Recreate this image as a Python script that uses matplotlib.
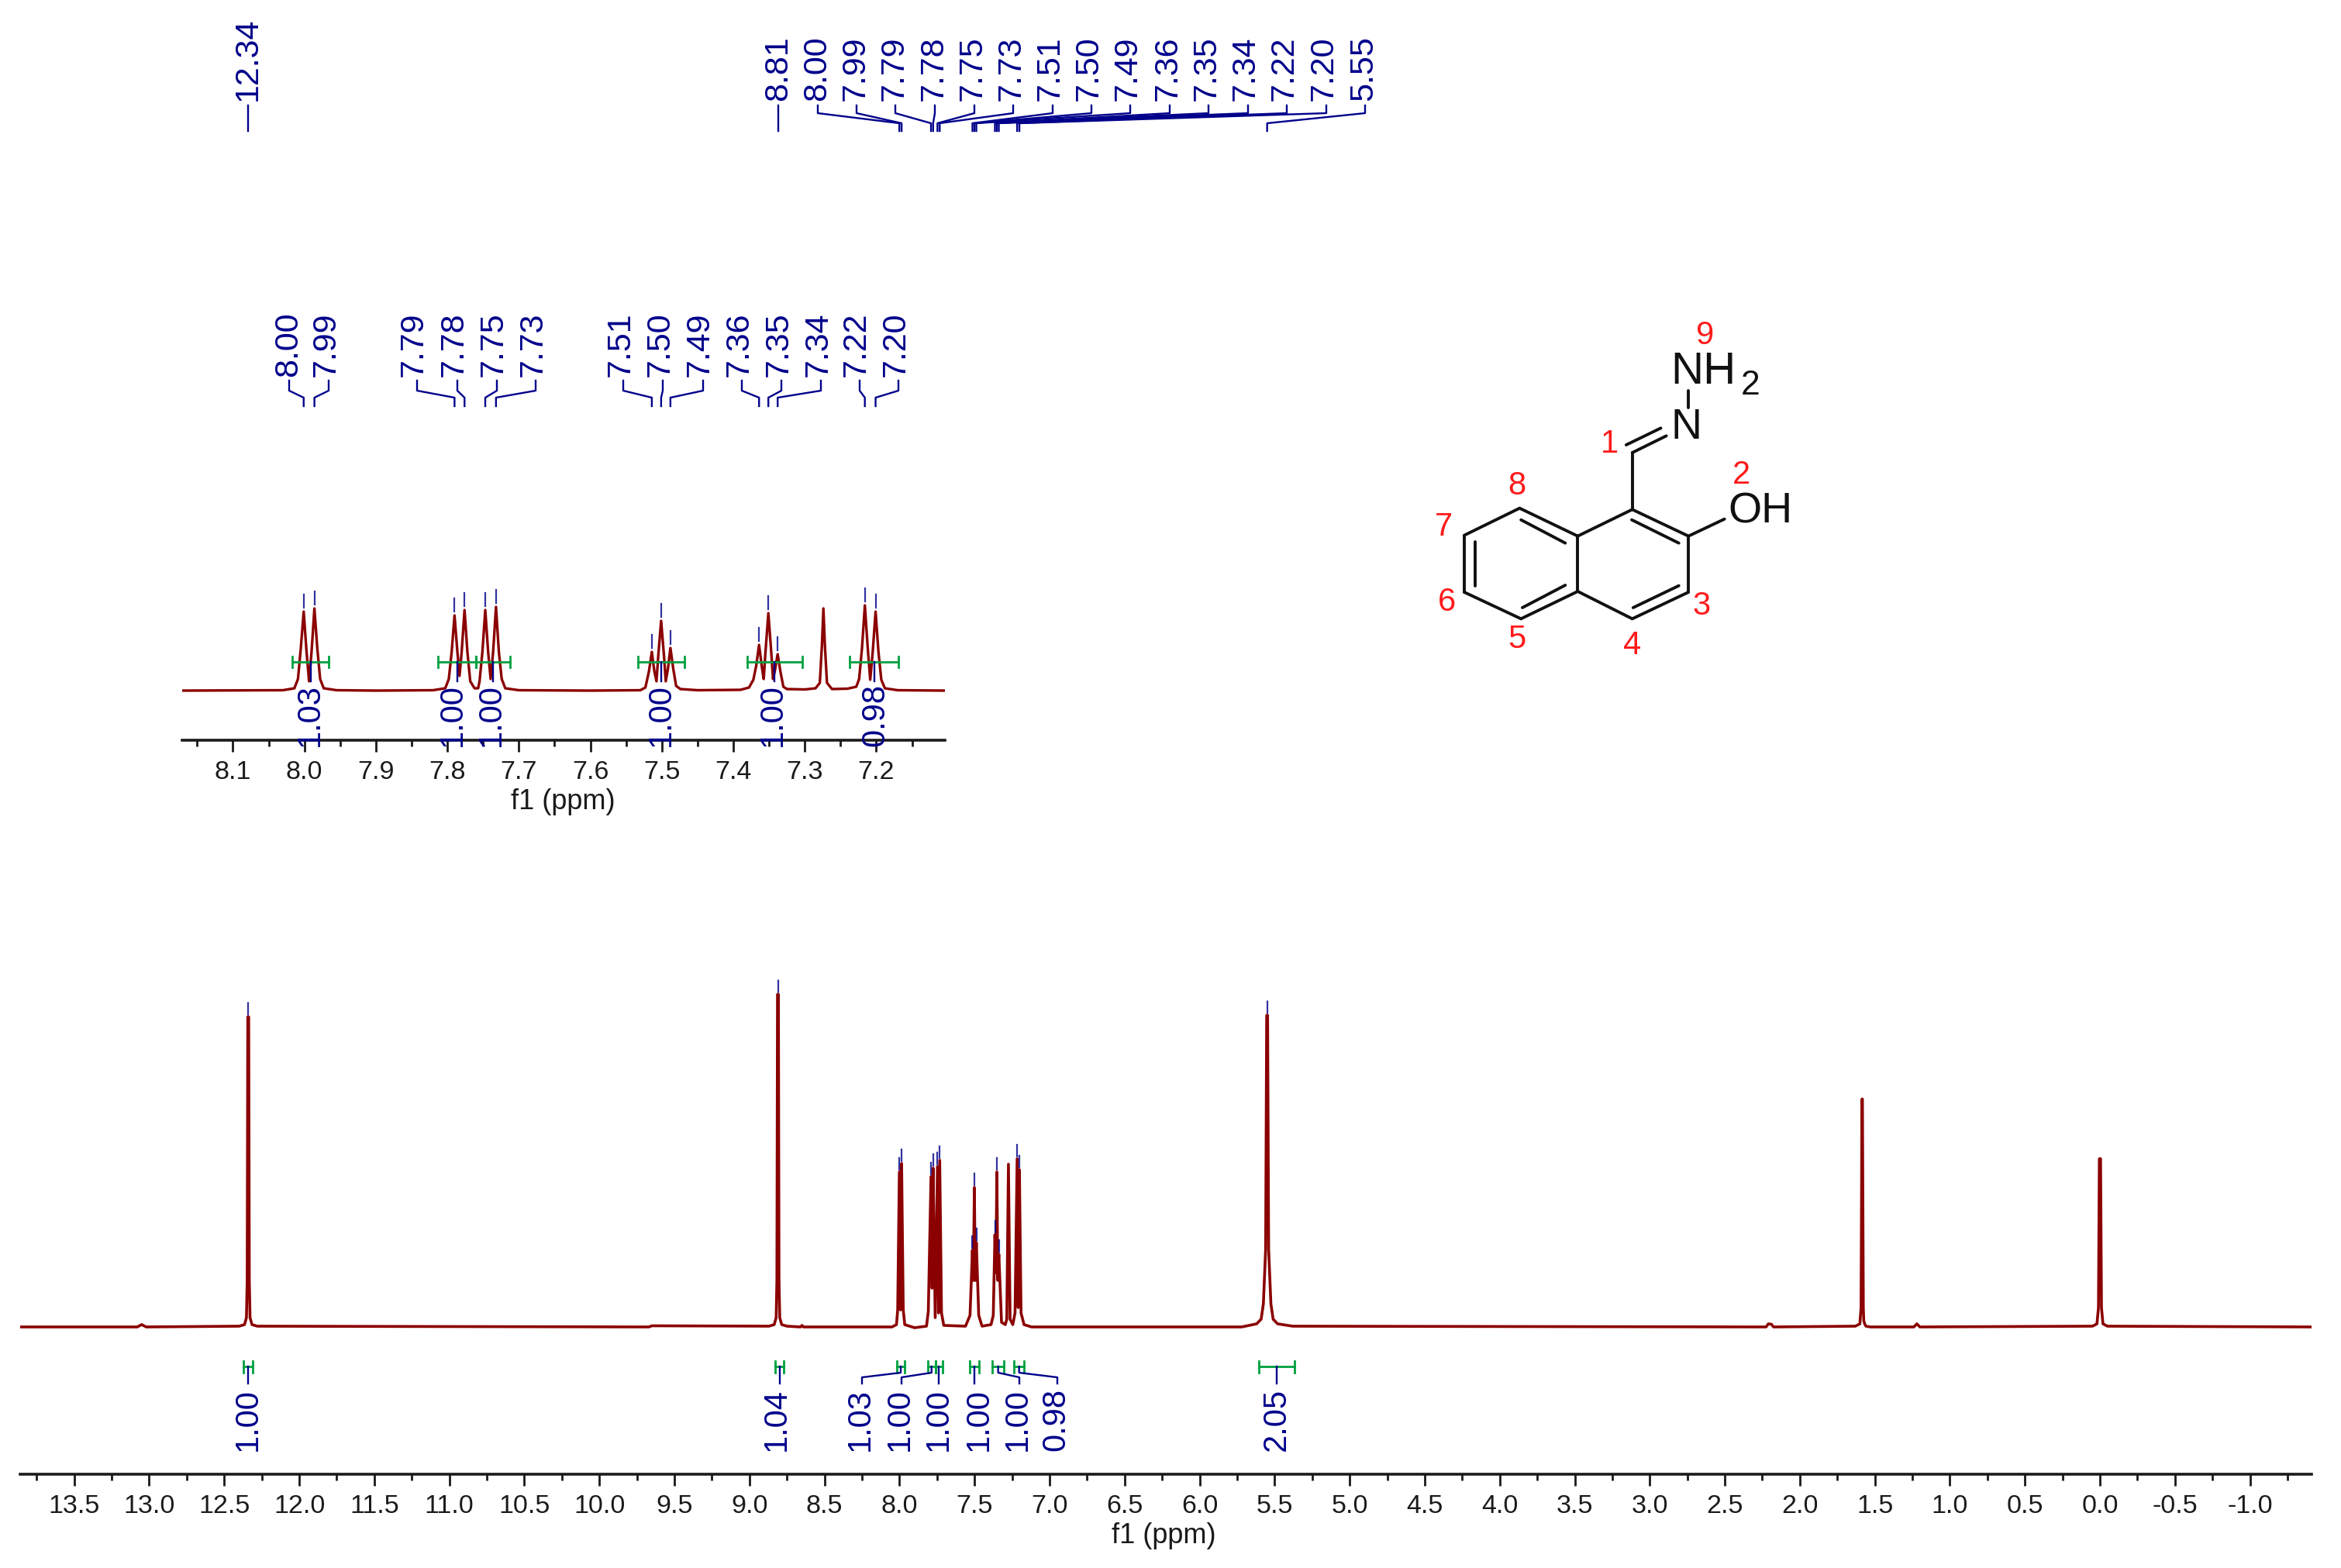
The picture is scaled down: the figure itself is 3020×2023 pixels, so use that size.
#!/usr/bin/env python3
"""1H NMR spectrum with aromatic expansion and structure of the hydrazone."""
import matplotlib
matplotlib.use('Agg')
import matplotlib.pyplot as plt
from matplotlib.ticker import MultipleLocator, FormatStrFormatter

plt.rcParams['font.family'] = ['Liberation Sans', 'DejaVu Sans']
plt.rcParams['axes.unicode_minus'] = False

RED = '#8b0000'
BLUE = '#00008b'
GREEN = '#00a040'
INK = '#1a1a1a'

# ---------- data (intensity in arbitrary units) ----------
main_ppm = [13.86, 13.08, 13.05, 13.02, 12.40, 12.365, 12.352, 12.347, 12.343, 12.337, 12.333,
            12.328, 12.315, 12.28, 9.67, 9.65, 8.87, 8.835, 8.822, 8.817, 8.813, 8.807, 8.803,
            8.798, 8.785, 8.75, 8.66, 8.65, 8.64,
            8.05, 8.02, 8.012, 8.001, 7.993, 7.986, 7.975, 7.965, 7.90, 7.82, 7.808, 7.790,
            7.783, 7.776, 7.762, 7.747, 7.740, 7.732, 7.72, 7.705, 7.56, 7.53, 7.514, 7.508,
            7.501, 7.495, 7.488, 7.472, 7.45, 7.39, 7.375, 7.364, 7.358, 7.351, 7.345, 7.338,
            7.32, 7.295, 7.285, 7.274, 7.263, 7.245, 7.23, 7.216, 7.209, 7.201, 7.19, 7.17,
            7.12, 5.72, 5.62, 5.59, 5.575, 5.56, 5.553, 5.547, 5.54, 5.525, 5.51, 5.48, 5.38,
            2.225, 2.21, 2.19, 2.175, 1.63, 1.60, 1.592, 1.586, 1.583, 1.577, 1.574, 1.568, 1.56,
            1.53, 1.24, 1.22, 1.20, 0.05, 0.02, 0.01, 0.004, -0.004, -0.01, -0.02, -0.05, -1.41]
main_int = [0, 0, 3, 0, 1, 3, 12, 60, 400, 400, 60,
            12, 3, 1, 0, 1.5, 1, 3, 12, 60, 429, 429, 60,
            12, 3, 1, 0, 2, 0,
            0, 3, 22, 200, 22, 211, 22, 3, -1, 1, 20, 194,
            50, 205, 12, 207, 18, 215, 18, 2, 1, 15, 99, 60,
            180, 60, 109, 15, 1, 3, 15, 119, 70, 200, 60, 94,
            6, 3, 10, 210, 10, 3, 18, 217, 25, 203, 18, 3,
            0, 0, 4, 10, 30, 100, 402, 402, 100, 30, 10, 4, 1,
            0, 4, 3.5, 0, 1, 4, 25, 294, 294, 25, 8, 4, 1,
            0, 0, 4, 0, 1, 4, 25, 217, 217, 25, 4, 1, 0]

inset_ppm = [8.171, 8.03, 8.014, 8.009, 8.005, 8.001, 7.997, 7.9935, 7.990, 7.986, 7.982, 7.978,
             7.973, 7.955, 7.90, 7.82, 7.803, 7.798, 7.794, 7.790, 7.786, 7.783, 7.780, 7.776,
             7.772, 7.768, 7.762, 7.757, 7.755, 7.751, 7.747, 7.743, 7.7395, 7.736, 7.732, 7.728,
             7.724, 7.719, 7.70, 7.60, 7.53, 7.523, 7.518, 7.514, 7.5105, 7.5075, 7.505, 7.501,
             7.497, 7.4945, 7.4915, 7.488, 7.484, 7.48, 7.474, 7.45, 7.39, 7.378, 7.372, 7.368,
             7.364, 7.36, 7.3575, 7.355, 7.351, 7.347, 7.3445, 7.342, 7.338, 7.334, 7.33, 7.325,
             7.30, 7.285, 7.279, 7.276, 7.274, 7.272, 7.269, 7.262, 7.24, 7.228, 7.224, 7.220,
             7.216, 7.212, 7.2085, 7.205, 7.201, 7.197, 7.193, 7.188, 7.17, 7.104]
inset_int = [0, 0.5, 3, 15, 55, 102, 50, 12, 50, 106, 55, 15,
             3, 0.5, 0, 0.5, 3, 15, 50, 97, 50, 19, 50, 104,
             50, 12, 3, 3, 12, 50, 104, 50, 15, 50, 108, 50,
             15, 3, 0.5, 0, 0.5, 4, 25, 50, 25, 12, 45, 90,
             45, 12, 28, 55, 28, 6, 2, 0.5, 1, 4, 14, 32,
             59, 30, 15, 50, 100, 50, 15, 25, 47, 24, 5, 2,
             1.5, 3, 10, 60, 106, 60, 10, 2, 2.5, 5, 15, 55,
             110, 55, 14, 50, 102, 50, 14, 3, 0.5, 0]

main_peaks = [8.001, 7.986, 7.790, 7.776, 7.747, 7.732, 7.514, 7.501, 7.488, 7.364, 7.351,
              7.338, 7.216, 7.201, 5.55, 8.81, 12.34]
main_peak_tops = [200, 211, 194, 205, 207, 215, 99, 180, 109, 119, 200, 94, 217, 203, 402, 429, 400]
inset_peaks = [8.001, 7.986, 7.790, 7.776, 7.747, 7.732, 7.514, 7.501, 7.488, 7.364, 7.351,
               7.338, 7.216, 7.201]
inset_peak_tops = [102, 106, 97, 104, 104, 108, 50, 90, 55, 59, 100, 47, 110, 102]

top_labels = ['8.00', '7.99', '7.79', '7.78', '7.75', '7.73', '7.51', '7.50', '7.49',
              '7.36', '7.35', '7.34', '7.22', '7.20', '5.55']
top_label_x = [1054, 1104, 1154, 1205, 1255, 1305, 1355, 1405, 1455, 1507, 1557, 1607, 1657, 1708, 1759]
top_stem_x = [1055, 1105, 1155, 1206, 1257, 1307, 1358, 1408, 1458, 1509, 1559, 1610, 1660, 1711, 1761]
inset_labels = ['8.00', '7.99', '7.79', '7.78', '7.75', '7.73', '7.51', '7.50', '7.49',
                '7.36', '7.35', '7.34', '7.22', '7.20']
inset_label_x = [372, 421, 534, 586, 637, 688, 801, 852, 903, 954, 1005, 1056, 1105, 1156]
inset_stem_x = [373, 424, 538, 590, 641, 691, 804, 855, 907, 957, 1008, 1059, 1109, 1159]

integral_ppm = [(12.37, 12.31), (8.83, 8.77), (8.017, 7.966), (7.813, 7.76), (7.76, 7.712),
                (7.533, 7.468), (7.381, 7.304), (7.237, 7.169), (5.603, 5.366)]
integral_vals = ['1.00', '1.04', '1.03', '1.00', '1.00', '1.00', '1.00', '0.98', '2.05']
integral_label_x = [320, 1002, 1110, 1161, 1211, 1263, 1313, 1362, 1647]
inset_integrals = integral_ppm[2:8]
inset_integral_vals = integral_vals[2:8]
inset_integral_x = [400, 584, 634, 853, 997, 1129]

W, H = 3020, 2024
fig = plt.figure(figsize=(W/100, H/100), dpi=100, facecolor='white')

def axes_px(left, right, top, bottom):
    return fig.add_axes([left/W, 1-bottom/H, (right-left)/W, (bottom-top)/H], facecolor='none')

def style_axis(ax, major, minor, fmt, label_x):
    for s in ('left', 'right', 'top'):
        ax.spines[s].set_visible(False)
    ax.spines['bottom'].set_linewidth(2.6)
    ax.spines['bottom'].set_color(INK)
    ax.yaxis.set_visible(False)
    ax.xaxis.set_major_locator(MultipleLocator(major))
    ax.xaxis.set_minor_locator(MultipleLocator(minor))
    ax.xaxis.set_major_formatter(FormatStrFormatter(fmt))
    ax.tick_params(axis='x', which='major', length=10.8, width=2, pad=7, labelsize=24.5,
                   color=INK, labelcolor=INK)
    ax.tick_params(axis='x', which='minor', length=5.5, width=2, color=INK)
    ax.set_xlabel('f1 (ppm)', fontsize=26, color=INK, labelpad=4, x=label_x)

# ---------- full spectrum ----------
ax = axes_px(26, 2982, 1213, 1903)
ax.set_xlim(13.86, -1.41)
ax.set_ylim(-190, 500)
ax.plot(main_ppm, main_int, color=RED, lw=2.6)
for p, t in zip(main_peaks, main_peak_tops):
    ax.plot([p, p], [t+3, t+18], color=BLUE, lw=1.6, alpha=0.8)
style_axis(ax, 0.5, 0.25, '%.1f', 0.499)

# ---------- aromatic expansion ----------
ins = axes_px(235, 1219, 692, 956)
ins.set_xlim(8.171, 7.104)
ins.set_ylim(-64, 200)
ins.plot(inset_ppm, inset_int, color=RED, lw=2.4)
for p, t in zip(inset_peaks, inset_peak_tops):
    ins.plot([p, p], [t+5, t+22], color=BLUE, lw=1.6, alpha=0.8)
style_axis(ins, 0.1, 0.05, '%.1f', 0.499)

# ---------- everything placed in picture pixels goes on an overlay ----------
ov = fig.add_axes([0, 0, 1, 1], facecolor='none')
ov.set_xlim(0, W)
ov.set_ylim(H, 0)
ov.axis('off')
main_x = lambda p: ax.transData.transform((p, 0))[0]
ins_x = lambda p: ins.transData.transform((p, 0))[0]

def peak_label(x, y, s):
    ov.text(x, y, s, rotation=90, ha='center', va='bottom', fontsize=31, color=BLUE)

def stem(pts):
    ov.plot([q[0] for q in pts], [q[1] for q in pts], color=BLUE, lw=1.7)

# picks above the full spectrum
peak_label(320, 130, '12.34')
stem([(main_x(12.34), 137), (main_x(12.34), 170)])
peak_label(1004, 130, '8.81')
stem([(main_x(8.81), 137), (main_x(8.81), 170)])
for s, lx, sx, p in zip(top_labels, top_label_x, top_stem_x, main_peaks[:14] + [5.55]):
    peak_label(lx, 130, s)
    stem([(sx, 137), (sx, 147), (main_x(p), 160), (main_x(p), 170)])

# picks above the expansion
for s, lx, sx, p in zip(inset_labels, inset_label_x, inset_stem_x, inset_peaks):
    peak_label(lx, 486, s)
    stem([(sx, 492), (sx, 505), (ins_x(p), 514), (ins_x(p), 525)])

# integrals under the full spectrum
for (a, b), s, lx in zip(integral_ppm, integral_vals, integral_label_x):
    xa, xb = main_x(a), main_x(b)
    mid = (xa + xb)/2
    ov.plot([xa, xb], [1764, 1764], color=GREEN, lw=2)
    ov.plot([xa, xa], [1757, 1772], color=GREEN, lw=2)
    ov.plot([xb, xb], [1757, 1772], color=GREEN, lw=2)
    if abs(mid - lx) < 12:
        stem([(mid, 1764), (mid, 1786)])
    else:
        stem([(mid, 1764), (mid, 1772), (lx+2, 1778), (lx+2, 1786)])
    ov.text(lx, 1872, s, rotation=90, ha='center', va='bottom', fontsize=30, color=BLUE)

# integrals on the expansion
for (a, b), s, lx in zip(inset_integrals, inset_integral_vals, inset_integral_x):
    xa, xb = ins_x(a), ins_x(b)
    mid = (xa + xb)/2
    ov.plot([xa, xb], [855, 855], color=GREEN, lw=2)
    ov.plot([xa, xa], [848, 862], color=GREEN, lw=2)
    ov.plot([xb, xb], [848, 862], color=GREEN, lw=2)
    stem([(mid, 855), (mid, 880)])
    ov.text(lx, 963, s, rotation=90, ha='center', va='bottom', fontsize=30, color=BLUE)

# ---------- structure ----------
mol_x = lambda z: 1780 + z/2.8
mol_y = lambda z: 400 + z/3
bonds = [((505, 770), (715, 878)), ((715, 878), (715, 1092)), ((715, 1092), (510, 1198)),
         ((510, 1198), (305, 1095)), ((305, 1095), (305, 875)), ((305, 875), (505, 770)),
         ((715, 878), (912, 775)), ((912, 775), (1115, 878)), ((1115, 878), (1115, 1095)),
         ((1115, 1095), (912, 1198)), ((912, 1198), (715, 1092)),
         ((510, 815), (670, 905)), ((345, 900), (345, 1070)), ((515, 1155), (670, 1068)),
         ((910, 815), (1080, 905)), ((915, 1155), (1080, 1070)),
         ((912, 775), (912, 555)), ((912, 555), (1035, 490)), ((890, 525), (1015, 460)),
         ((1115, 315), (1115, 380)), ((1115, 878), (1245, 812))]
for (x0, y0), (x1, y1) in bonds:
    ov.plot([mol_x(x0), mol_x(x1)], [mol_y(y0), mol_y(y1)], color='#111111', lw=2.8,
            solid_capstyle='round')
atoms = [(1108, 455, 'N', 40), (1170, 240, 'NH', 42), (1340, 292, '2', 32), (1375, 780, 'OH', 40)]
for zx, zy, s, fs in atoms:
    ov.text(mol_x(zx), mol_y(zy), s, ha='center', va='center', fontsize=fs, color='#111111')
numbers = [(1175, 100, '9'), (830, 520, '1'), (1305, 640, '2'), (495, 680, '8'), (232, 840, '7'),
           (243, 1130, '6'), (495, 1275, '5'), (912, 1300, '4'), (1163, 1145, '3')]
for zx, zy, s in numbers:
    ov.text(mol_x(zx), mol_y(zy), s, ha='center', va='center', fontsize=30, color='#ff1a1a')

fig.savefig('out.png', dpi=100, facecolor='white')
